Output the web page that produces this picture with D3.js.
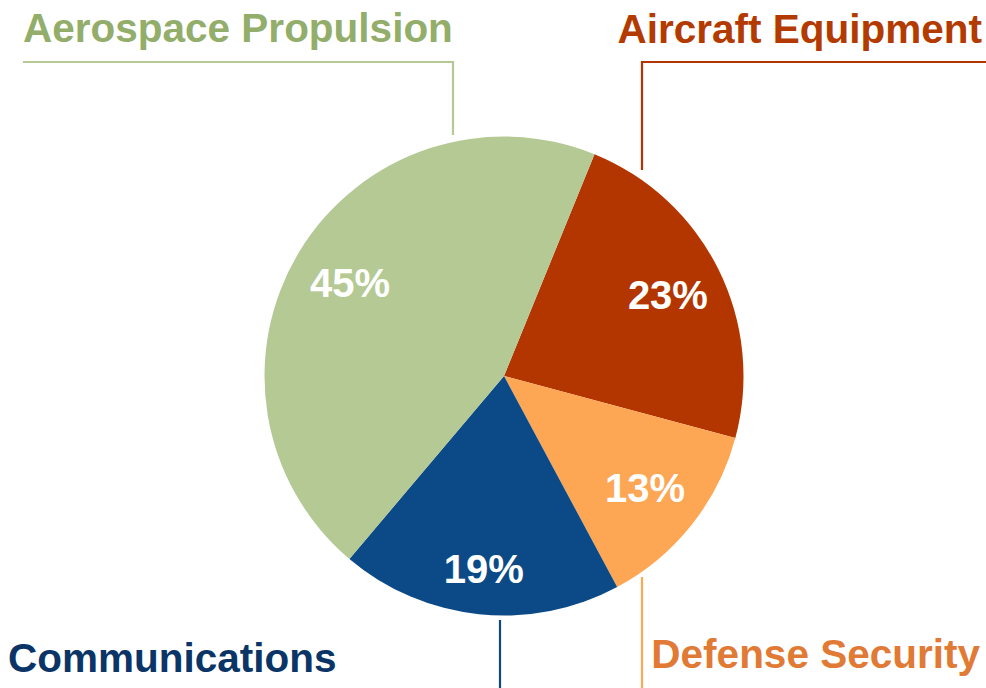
<!DOCTYPE html>
<html><head><meta charset="utf-8">
<script src="https://cdn.jsdelivr.net/npm/d3@7"></script>
<style>html,body{margin:0;padding:0;background:#fff;}svg{display:block;}</style>
</head><body>
<svg id="chart" width="986" height="688"></svg>
<script>
const categories = ["Aircraft Equipment", "Defense Security", "Communications", "Aerospace Propulsion"];
const values = [23, 13, 19, 45];
const valueLabels = ["23%", "13%", "19%", "45%"];

const sliceColors = ["#b33500", "#fda654", "#0b4a86", "#b4c994"];
const textColors  = ["#b33a00", "#e07a35", "#0a3566", "#93ad6a"];

const W = 986, H = 688;
const cx = 504, cy = 376, R = 239.5;
const startDeg = 22.2;
const labelRadii = [183, 180, 194, 180];

const svg = d3.select("#chart");
const g = svg.append("g").attr("transform", `translate(${cx},${cy})`);

const pie = d3.pie().sort(null).value(d => d)
  .startAngle(startDeg * Math.PI / 180)
  .endAngle((startDeg + 360) * Math.PI / 180);
const arcs = pie(values);
const arc = d3.arc().innerRadius(0).outerRadius(R);

g.selectAll("path.slice").data(arcs).enter().append("path")
  .attr("class", "slice")
  .attr("d", arc)
  .attr("fill", (d, i) => sliceColors[i]);

g.selectAll("text.pct").data(arcs).enter().append("text")
  .attr("class", "pct")
  .each(function(d, i) {
    const c = d3.arc().innerRadius(labelRadii[i]).outerRadius(labelRadii[i]).centroid(d);
    d3.select(this).attr("x", c[0]).attr("y", c[1]);
  })
  .attr("dy", "0.36em")
  .attr("text-anchor", "middle")
  .attr("fill", "#fff")
  .style("font-family", "Liberation Sans, Arial, sans-serif")
  .style("font-weight", "bold")
  .style("font-size", "40px")
  .text((d, i) => valueLabels[i]);

// leader lines and category labels
const font = "Liberation Sans, Arial, sans-serif";
const lbl = [
  {i: 0, path: [[642, 170], [642, 62], [986, 62]], tx: 982, ty: 43, anchor: "end"},
  {i: 1, path: [[642, 577], [642, 688]], tx: 980, ty: 668, anchor: "end"},
  {i: 2, path: [[500, 620], [500, 688]], tx: 8, ty: 672, anchor: "start"},
  {i: 3, path: [[453, 135], [453, 62], [23, 62]], tx: 23, ty: 42, anchor: "start"}
];
const line = d3.line();
lbl.forEach(o => {
  svg.append("path").attr("d", line(o.path))
    .attr("fill", "none")
    .attr("stroke", sliceColors[o.i])
    .attr("stroke-width", 2.2);
  svg.append("text")
    .attr("x", o.tx).attr("y", o.ty)
    .attr("text-anchor", o.anchor)
    .attr("fill", textColors[o.i])
    .style("font-family", font)
    .style("font-weight", "bold")
    .style("font-size", "40.5px")
    .text(categories[o.i]);
});
</script>
</body></html>
